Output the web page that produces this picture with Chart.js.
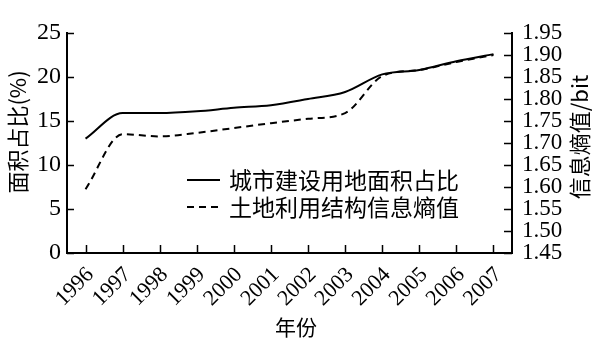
<!DOCTYPE html>
<html><head><meta charset="utf-8">
<script src="https://cdn.jsdelivr.net/npm/chart.js@4/dist/chart.umd.min.js"></script>
<style>html,body{margin:0;padding:0;background:#fff}canvas{display:block}</style>
</head><body>
<canvas id="c" width="615" height="354"></canvas>
<script>
// ---- data ----
const years = ['1996','1997','1998','1999','2000','2001','2002','2003','2004','2005','2006','2007'];
const landShare = [13.0, 15.9, 15.9, 16.1, 16.5, 16.8, 17.5, 18.3, 20.3, 20.8, 21.8, 22.6];
const entropy = [1.595, 1.72, 1.715, 1.723, 1.734, 1.745, 1.755, 1.768, 1.852, 1.866, 1.884, 1.90];
const leftTicks = [0, 5, 10, 15, 20, 25];
const rightTicks = ['1.45','1.50','1.55','1.60','1.65','1.70','1.75','1.80','1.85','1.90','1.95'];
const seriesNames = ['城市建设用地面积占比', '土地利用结构信息熵值'];
const leftTitle = '面积占比(%)';
const rightTitle = '信息熵值/bit';
const xTitle = '年份';

const NUM_FONT = 'Liberation Serif, Times New Roman, Times, serif';
const CJK_FONT = '"Noto Sans CJK SC", "Noto Sans", sans-serif';

const decor = {
  id: 'decor',
  afterDraw(chart) {
    const ctx = chart.ctx;
    const ca = chart.chartArea;
    const sx = chart.scales.x, sy = chart.scales.y, sy1 = chart.scales.y1;
    ctx.save();
    ctx.strokeStyle = '#000';
    ctx.lineWidth = 1.5;
    // inward tick marks
    ctx.beginPath();
    sy.ticks.forEach((t, i) => { const p = Math.round(sy.getPixelForTick(i)) + 0.5; ctx.moveTo(ca.left, p); ctx.lineTo(ca.left + 7, p); });
    sy1.ticks.forEach((t, i) => { const p = Math.round(sy1.getPixelForTick(i)) + 0.5; ctx.moveTo(ca.right, p); ctx.lineTo(ca.right - 8, p); });
    sx.ticks.forEach((t, i) => { const p = Math.round(sx.getPixelForTick(i)) + 0.5; ctx.moveTo(p, ca.bottom); ctx.lineTo(p, ca.bottom - 8); });
    ctx.stroke();

    // axis titles
    ctx.fillStyle = '#000';
    ctx.textAlign = 'center';
    ctx.textBaseline = 'middle';
    ctx.font = '22px ' + CJK_FONT;
    ctx.save(); ctx.translate(18, 132); ctx.rotate(-Math.PI / 2); ctx.fillText(leftTitle, 0, 0); ctx.restore();
    ctx.save(); ctx.translate(580, 137); ctx.rotate(-Math.PI / 2); ctx.fillText(rightTitle, 0, 0); ctx.restore();
    ctx.font = '21px ' + CJK_FONT;
    ctx.fillText(xTitle, 296, 327);

    // legend
    const rows = [180, 207];
    chart.data.datasets.forEach((ds, i) => {
      const y = rows[i];
      ctx.beginPath();
      ctx.lineWidth = ds.borderWidth;
      ctx.setLineDash(ds.borderDash || []);
      ctx.moveTo(187, y); ctx.lineTo(220, y);
      ctx.stroke();
      ctx.setLineDash([]);
      ctx.textAlign = 'left';
      ctx.font = '23px ' + CJK_FONT;
      ctx.fillText(ds.label, 229, y);
    });
    ctx.restore();
  }
};

new Chart(document.getElementById('c'), {
  type: 'line',
  data: {
    labels: years,
    datasets: [
      { label: seriesNames[0], data: landShare, yAxisID: 'y', borderColor: '#000', borderWidth: 2, pointRadius: 0, cubicInterpolationMode: 'monotone', fill: false },
      { label: seriesNames[1], data: entropy, yAxisID: 'y1', borderColor: '#000', borderWidth: 2, borderDash: [7, 5], pointRadius: 0, cubicInterpolationMode: 'monotone', fill: false }
    ]
  },
  options: {
    responsive: false,
    animation: false,
    devicePixelRatio: 1,
    layout: { padding: { top: 33, left: 0, right: 0, bottom: 0 } },
    plugins: { legend: { display: false }, tooltip: { enabled: false } },
    scales: {
      x: {
        type: 'category',
        offset: true,
        grid: { display: false, drawTicks: false },
        border: { display: true, color: '#000', width: 2 },
        ticks: { color: '#000', font: { family: NUM_FONT, size: 22 }, minRotation: 45, maxRotation: 45, padding: 9, labelOffset: 5, autoSkip: false },
        afterFit(s) { s.height = 101; }
      },
      y: {
        position: 'left',
        min: 0, max: 25,
        afterBuildTicks(s) { s.ticks = leftTicks.map(v => ({ value: v })); },
        grid: { display: false, drawTicks: false },
        border: { display: true, color: '#000', width: 2 },
        ticks: { color: '#000', font: { family: NUM_FONT, size: 24, lineHeight: 1 }, padding: 6, autoSkip: false },
        afterFit(s) { s.width = 67; }
      },
      y1: {
        position: 'right',
        min: 1.45, max: 1.95,
        afterBuildTicks(s) { s.ticks = rightTicks.map(v => ({ value: parseFloat(v) })); },
        grid: { display: false, drawTicks: false },
        border: { display: true, color: '#000', width: 2 },
        ticks: { color: '#000', font: { family: NUM_FONT, size: 23, lineHeight: 1 }, padding: 10, autoSkip: false,
          callback(v, i) { return rightTicks[i]; } },
        afterFit(s) { s.width = 103; }
      }
    }
  },
  plugins: [decor]
});
</script>
</body></html>
